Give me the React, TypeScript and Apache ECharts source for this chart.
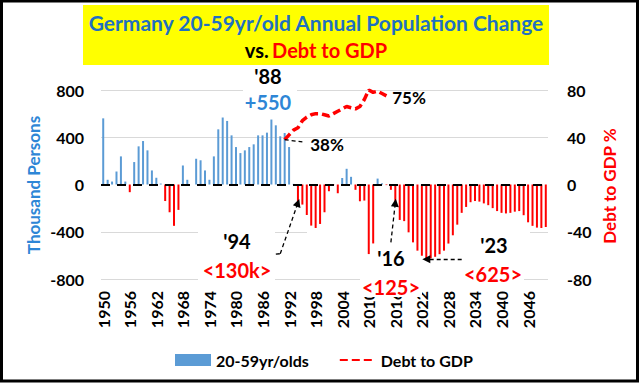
import React, { useEffect, useRef } from 'react';
import * as echarts from 'echarts';

const startYear = 1950;
const yearCount = 101;
const years: string[] = Array.from({ length: yearCount }, (_, i) => String(startYear + i));

// Annual change of 20-59yr olds (thousand persons), 1950..2050
const popChange: number[] = [
  560, 40, 25, 110, 238, 25, -65, 190, 323, 368, // 1950-1959
  289, 119, 57, 8, -140, -235, -350, -215, 161, 40, // 1960-1969
  0, 218, 205, 119, 40, 238, 467, 567, 538, 416, // 1970-1979
  317, 266, 289, 317, 340, 416, 416, 439, 550, 501, // 1980-1989
  408, 436, 317, 5, -150, -170, -258, -348, -368, -334, // 1990-1999
  -235, -57, -5, -74, 55, 133, 65, -45, -142, -136, // 2000-2009
  -589, -499, 50, 10, -5, -45, -150, -300, -310, -405, // 2010-2019
  -490, -560, -603, -632, -625, -612, -590, -560, -500, -430, // 2020-2029
  -340, -240, -190, -150, -140, -145, -160, -175, -200, -225, // 2030-2039
  -240, -245, -240, -230, -225, -260, -320, -350, -365, -368, // 2040-2049
  -360, // 2050
];

// Debt to GDP (%), 1991..2014
const debtStartYear = 1991;
const debtToGdp: number[] = [38, 42, 46, 48, 54, 57, 59, 60, 60, 59, 58, 60, 62, 64, 66, 65, 64, 66, 72, 80, 78, 79, 77, 75];

const leftAxis = { min: -800, max: 800, step: 400 };
const rightAxis = { min: -80, max: 80, step: 40 };

const FONT = 'Lato, "Noto Sans", sans-serif';
const BLUE = '#5b9bd5';
const RED = '#ff0000';

export default function App() {
  const ref = useRef<HTMLDivElement>(null);
  useEffect(() => {
    const chart = echarts.init(ref.current!, null, { renderer: 'svg' });
    const popData = popChange.map((v) => ({ value: v, itemStyle: { color: v < 0 ? RED : BLUE } }));
    const debtData = years.map((y) => {
      const i = Number(y) - debtStartYear;
      return i >= 0 && i < debtToGdp.length ? debtToGdp[i] : null;
    });
    const arrowStyle = { color: '#000', type: [4, 3], width: 1.3 };
    const txt = (text: string, x: number, y: number, size: number, color: string, bg?: boolean) => ({
      type: 'text', x, y, z: 100,
      style: {
        text, fill: color, fontSize: size, fontWeight: 'bold', fontFamily: FONT,
        align: 'center', verticalAlign: 'middle',
        backgroundColor: bg ? '#fff' : undefined, padding: bg ? [0, 2] : undefined,
      },
    });
    const whiteBox = (x: number, y: number, w: number, h: number) => ({
      type: 'rect', z: 1, shape: { x, y, width: w, height: h }, style: { fill: '#fff' },
    });
    const option: any = {
      animation: false,
      backgroundColor: '#fff',
      grid: { left: 101, right: 92, top: 90, bottom: 104 },
      legend: {
        left: 170, top: 347, itemWidth: 36, itemHeight: 12, itemGap: 30,
        textStyle: { fontFamily: FONT, fontWeight: 'bold', fontSize: 16, color: '#000' },
        data: [
          { name: '20-59yr/olds', icon: 'rect' },
          { name: 'Debt to GDP', itemStyle: { opacity: 0 } },
        ],
      },
      xAxis: {
        type: 'category', data: years, boundaryGap: true,
        axisLine: { show: false }, axisTick: { show: false },
        axisLabel: { interval: 5, rotate: 90, margin: 12, fontFamily: FONT, fontWeight: 'bold', fontSize: 16, color: '#000' },
      },
      yAxis: [
        {
          type: 'value', min: leftAxis.min, max: leftAxis.max, interval: leftAxis.step,
          axisLine: { show: false }, axisTick: { show: false },
          axisLabel: { margin: 17, fontFamily: FONT, fontWeight: 'bold', fontSize: 16, color: '#000' },
          splitLine: { lineStyle: { color: ['#d9d9d9', '#d9d9d9', 'rgba(0,0,0,0)', '#d9d9d9', '#d9d9d9'], width: 1 } },
        },
        {
          type: 'value', position: 'right', min: rightAxis.min, max: rightAxis.max, interval: rightAxis.step,
          axisLine: { show: false }, axisTick: { show: false }, splitLine: { show: false },
          axisLabel: { margin: 19, fontFamily: FONT, fontWeight: 'bold', fontSize: 16, color: '#000' },
        },
      ],
      series: [
        {
          name: '20-59yr/olds', type: 'bar', data: popData, barWidth: 2,
          itemStyle: { color: BLUE },
          markLine: {
            silent: true, symbol: ['none', 'none'], label: { show: false },
            lineStyle: { color: '#000', type: [9, 7], width: 2 },
            data: [
              { yAxis: 0 },
              [{ coord: ['1989', -590], lineStyle: arrowStyle }, { coord: ['1990', -586] }],
              [{ coord: ['1990', -586], lineStyle: arrowStyle, symbol: 'none' }, { coord: ['1994', -155], symbol: 'triangle', symbolSize: 8 }],
              [{ coord: ['2015', -490], lineStyle: arrowStyle, symbol: 'none' }, { coord: ['2016', -155], symbol: 'triangle', symbolSize: 8 }],
              [{ coord: ['2031', -632], lineStyle: arrowStyle, symbol: 'none' }, { coord: ['2023', -632], symbol: 'triangle', symbolSize: 8 }],
            ],
          },
        },
        {
          name: 'Debt to GDP', type: 'line', yAxisIndex: 1, data: debtData, symbol: 'none',
          itemStyle: { color: RED },
          lineStyle: { color: RED, width: 3.5, type: [8, 4] },
          markLine: {
            silent: true, symbol: ['none', 'none'], label: { show: false },
            data: [[{ coord: ['1991', 38], lineStyle: arrowStyle }, { coord: ['1995', 36] }]],
          },
        },
      ],
      graphic: [
        whiteBox(243, 66, 54, 48),
        whiteBox(198, 226, 77, 57),
        whiteBox(307, 226, 223, 10),
        whiteBox(363, 274, 160, 10),
        { type: 'rect', z: 5, shape: { x: 83, y: 5, width: 466, height: 60 }, style: { fill: '#ffff00' } },
        txt('Germany 20-59yr/old Annual Population Change', 316, 22, 21, '#1f70c1'),
        {
          type: 'text', x: 316, y: 50, z: 100,
          style: {
            text: '{k|vs.} {r|Debt to GDP}', align: 'center', verticalAlign: 'middle',
            rich: {
              k: { fill: '#000', fontSize: 20, fontWeight: 'bold', fontFamily: FONT },
              r: { fill: RED, fontSize: 20, fontWeight: 'bold', fontFamily: FONT },
            },
          },
        },
        { type: 'text', x: 33, y: 185, rotation: Math.PI / 2, z: 100,
          style: { text: 'Thousand Persons', fill: '#2e86d6', fontSize: 17, fontWeight: 'bold', fontFamily: FONT, align: 'center', verticalAlign: 'middle' } },
        { type: 'text', x: 609, y: 186, rotation: Math.PI / 2, z: 100,
          style: { text: 'Debt to GDP %', fill: RED, fontSize: 17, fontWeight: 'bold', fontFamily: FONT, align: 'center', verticalAlign: 'middle' } },
        txt("'88", 268, 76, 20, '#000'),
        txt('+550', 268, 102, 20, '#2e86d6'),
        txt('38%', 327, 144, 17, '#000'),
        txt('75%', 409, 97, 17, '#000'),
        txt("'94", 237, 241, 20, '#000'),
        txt('<130k>', 237, 270, 20, RED),
        txt("'16", 391, 258, 20, '#000'),
        txt('<125>', 391, 287, 20, RED, true),
        txt("'23", 494, 245, 20, '#000'),
        txt('<625>', 493, 274, 20, RED, true),
        { type: 'rect', z: 200, shape: { x: 1.5, y: 1, width: 636, height: 380 }, style: { fill: 'none', stroke: '#000', lineWidth: 3 } },
      ],
    };
    chart.setOption(option);
    return () => chart.dispose();
  }, []);
  return <div ref={ref} style={{ position: 'absolute', left: 0, top: 0, width: 640, height: 383, background: '#fff' }} />;
}
